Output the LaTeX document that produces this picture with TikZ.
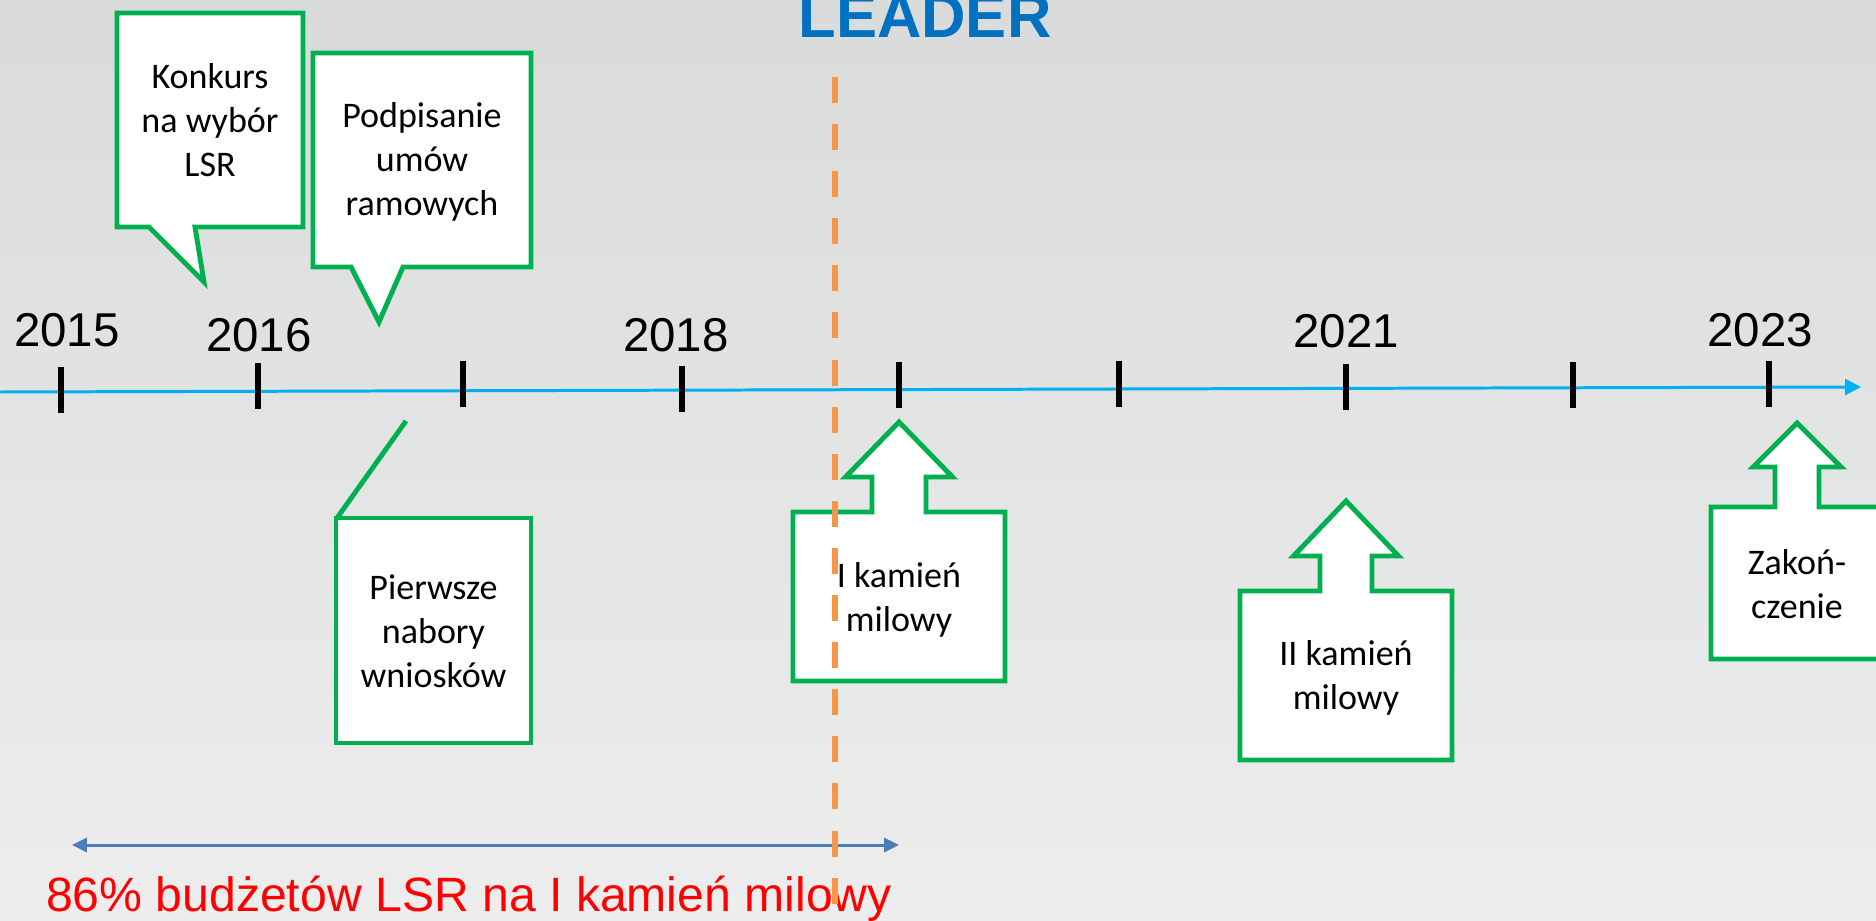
\documentclass[tikz,border=0pt]{standalone}
\usepackage{fontspec}
\setmainfont{Liberation Sans}
\newfontfamily\calloutfont{Carlito}
\usetikzlibrary{arrows.meta}
\definecolor{bgtop}{RGB}{217,219,219}
\definecolor{bgbot}{RGB}{237,237,237}
\definecolor{axisblue}{RGB}{0,176,240}
\definecolor{boxgreen}{RGB}{0,176,80}
\definecolor{leaderblue}{RGB}{0,112,192}
\definecolor{dashorange}{RGB}{247,150,70}
\definecolor{spanblue}{RGB}{74,126,187}

\begin{document}
\begin{tikzpicture}[x=0.2mm,y=-0.2mm,
    callout/.style={draw=boxgreen,fill=white,line width=2.8pt,line join=miter},
    boxtext/.style={font=\calloutfont\fontsize{20.5}{25}\selectfont,
        align=center,inner sep=0pt},
    year/.style={font=\fontsize{27}{30}\selectfont,inner sep=0pt},
    yeartick/.style={line width=3pt,black},
    leaderdash/.style={dashorange,line width=3.4pt,dash pattern=on 14.8pt off 12pt}]
    \clip (0,0) rectangle (1876,921);
    \shade[top color=bgtop,bottom color=bgbot] (0,0) rectangle (1876,921);

    % os czasu
    \coordinate (axis-start) at (0,392);
    \coordinate (axis-end) at (1861,387);
    \draw[axisblue,line width=1.7pt,-{Triangle[length=9pt,width=9pt]}]
        (axis-start) -- (axis-end);
    \foreach \x/\y [count=\i] in {61/390,258/386,463/384,682/389,899/385,
            1119/384,1346/387,1573/385,1769/384}{
        \coordinate (t\i) at (\x,\y);
        \draw[yeartick] (\x,\y-23) -- (\x,\y+23);
    }
    \foreach \lbl/\x/\y in {2015/67/330,2016/259/335,2018/676/335,
            2021/1346/331,2023/1760/330}
        \node[year] (y\lbl) at (\x,\y) {\lbl};

    \node[font=\fontsize{35}{40}\selectfont\bfseries,leaderblue,anchor=base]
        (leader) at (925,38) {LEADER};

    % dymki nad osia
    \draw[callout] (117,13) -- (303,13) -- (303,227) -- (195,227) -- (204,282)
        -- (149,227) -- (117,227) -- cycle;
    \node[boxtext] (konkurs) at (210,120) {Konkurs\\na wybór\\LSR};
    \draw[callout] (313,53) -- (531,53) -- (531,267) -- (403,267) -- (379,322)
        -- (351,267) -- (313,267) -- cycle;
    \node[boxtext] (umowy) at (422,162) {Podpisanie\\umów\\ramowych};

    % dymek pod osia
    \draw[callout] (336,518) rectangle (531,743);
    \draw[callout] (337,518) -- (406,421);
    \node[boxtext] (nabory) at (433.5,631) {Pierwsze\\nabory\\wniosków};

    % strzalki w gore
    \foreach \cx/\tip/\sh/\tp/\bt/\w/\sw/\hw in {899/422/477/512/681/212/54/107,
            1346/501/556/591/760/212/52/105,1797/423/467/507/659/172/44/88}
        \draw[callout] (\cx-\w/2,\bt) -- (\cx-\w/2,\tp) -- (\cx-\sw/2,\tp)
            -- (\cx-\sw/2,\sh) -- (\cx-\hw/2,\sh) -- (\cx,\tip) -- (\cx+\hw/2,\sh)
            -- (\cx+\sw/2,\sh) -- (\cx+\sw/2,\tp) -- (\cx+\w/2,\tp)
            -- (\cx+\w/2,\bt) -- cycle;
    \node[boxtext] (kamien1) at (899,600) {I kamień\\milowy};
    \node[boxtext] (kamien2) at (1346,678) {II kamień\\milowy};
    \node[boxtext] (koniec) at (1797,584) {Zakoń-\\czenie};

    % budzet
    \coordinate (span-l) at (72,845);
    \coordinate (span-r) at (899,845);
    \draw[spanblue,line width=1.7pt,
        {Triangle[length=8.5pt,width=8pt]}-{Triangle[length=8.5pt,width=8pt]}]
        (span-l) -- (span-r);
    \node[font=\fontsize{27.4}{31}\selectfont,red,anchor=base,inner sep=0pt]
        (budzet) at (469,911) {86\% budżetów LSR na I kamień milowy};

    \coordinate (dash-top) at (835,77);
    \coordinate (dash-bot) at (835,930);
    \draw[leaderdash] (dash-top) -- (dash-bot);
\end{tikzpicture}
\end{document}
